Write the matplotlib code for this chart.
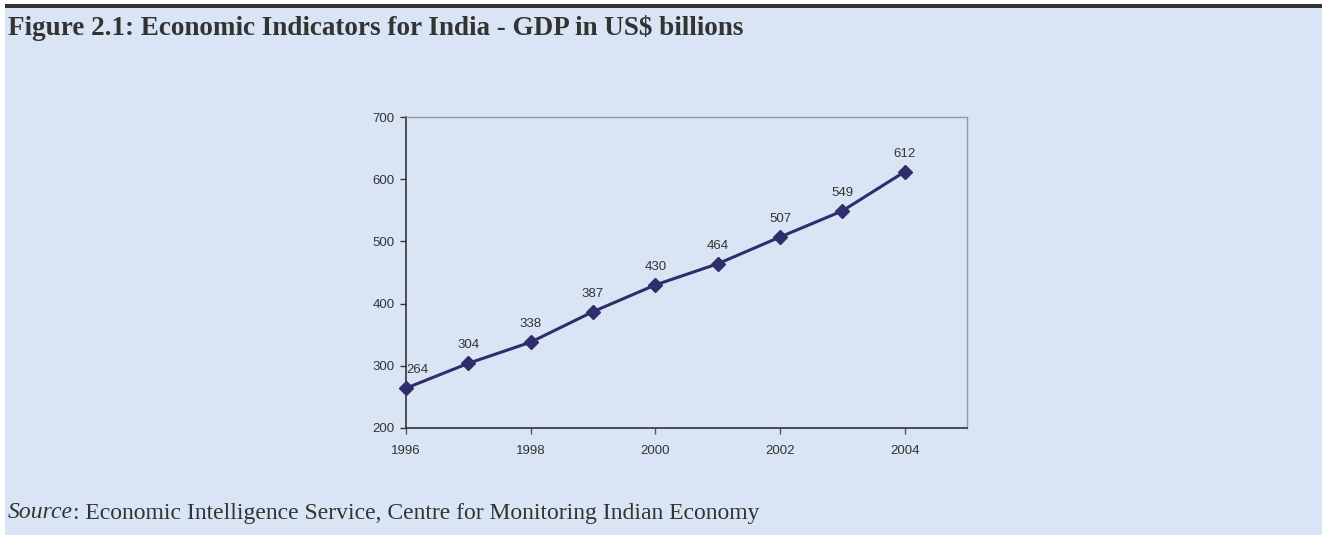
import matplotlib

matplotlib.use("Agg")
import matplotlib.pyplot as plt
from matplotlib.patches import Rectangle

years = [1996, 1997, 1998, 1999, 2000, 2001, 2002, 2003, 2004]
gdp = [264, 304, 338, 387, 430, 464, 507, 549, 612]
x_ticks = [1996, 1998, 2000, 2002, 2004]
y_ticks = [200, 300, 400, 500, 600, 700]

title = "Figure 2.1: Economic Indicators for India - GDP in US$ billions"
source_rest = ": Economic Intelligence Service, Centre for Monitoring Indian Economy"

W, H = 1322, 535
bg = "#d9e5f4"
navy = "#2e2e6a"
text_col = "#333333"

fig = plt.figure(figsize=(W / 100, H / 100), dpi=100, facecolor="white")

# panel background and dark top rule
fig.patches.append(Rectangle((5 / W, 0), 1 - 5 / W, 1 - 7 / H, transform=fig.transFigure,
                             facecolor=bg, edgecolor="none", zorder=-10))
fig.patches.append(Rectangle((5 / W, 1 - 8 / H), 1 - 5 / W, 4 / H, transform=fig.transFigure,
                             facecolor="#333333", edgecolor="none", zorder=-10))

ax = fig.add_axes([406 / W, 1 - 428 / H, (967 - 406) / W, (428 - 117) / H])
ax.set_facecolor(bg)
ax.plot(years, gdp, color=navy, linewidth=2.2, marker="D", markersize=7, zorder=3,
        clip_on=False)

for i, (x, y) in enumerate(zip(years, gdp)):
    ha = "left" if i == 0 else "center"
    ax.annotate(str(y), (x, y), xytext=(0, 13), textcoords="offset points",
                ha=ha, va="center", fontsize=9.5, color=text_col, family="Liberation Sans")

ax.set_xlim(1996, 2005)
ax.set_ylim(200, 700)
ax.set_xticks(x_ticks)
ax.set_yticks(y_ticks)
for lab in ax.get_xticklabels() + ax.get_yticklabels():
    lab.set_family("Liberation Sans")
ax.tick_params(axis="x", direction="out", length=4, width=1, color="#555555",
               pad=8, labelsize=9.5, labelcolor=text_col)
ax.tick_params(axis="y", direction="out", length=4, width=1, color="#333333",
               pad=4, labelsize=9.5, labelcolor=text_col)
for side in ["top", "right"]:
    ax.spines[side].set_color("#999999")
    ax.spines[side].set_linewidth(1)
for side in ["left", "bottom"]:
    ax.spines[side].set_color("#333333")
    ax.spines[side].set_linewidth(1.2)

fig.text(8 / W, 1 - 28 / H, title, ha="left", va="center", fontsize=19.5,
         fontweight="bold", family="Liberation Serif", color="#333333")
src = fig.text(8 / W, 1 - 513 / H, "Source", ha="left", va="center", fontsize=17,
               style="italic", family="Liberation Serif", color="#333333")
fig.canvas.draw()
bb = src.get_window_extent()
fig.text(bb.x1 / W, 1 - 513 / H, source_rest, ha="left", va="center", fontsize=17,
         family="Liberation Serif", color="#333333")

fig.savefig("out.png", dpi=100, facecolor=fig.get_facecolor())
